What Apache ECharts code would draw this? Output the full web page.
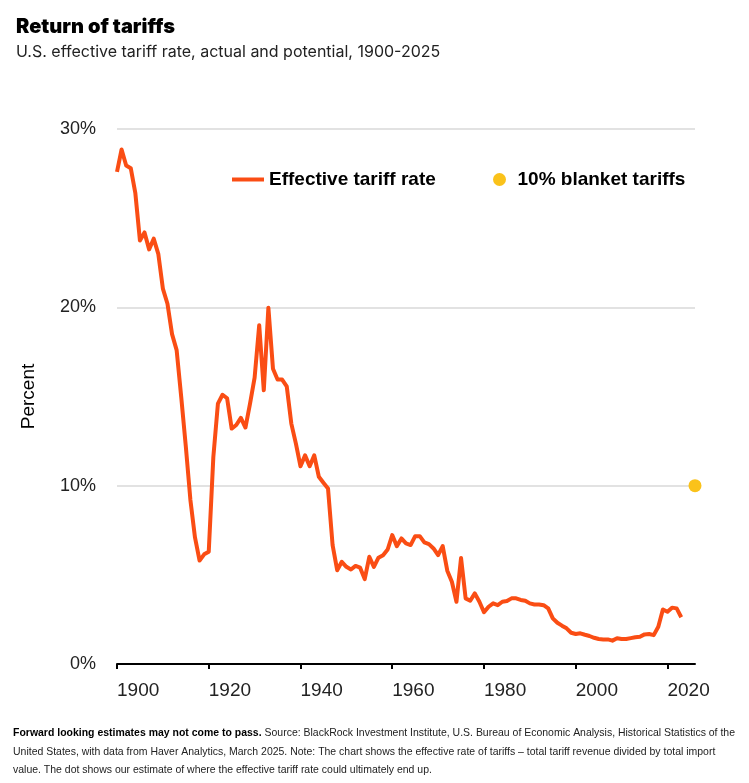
<!DOCTYPE html>
<html>
<head>
<meta charset="utf-8">
<script src="https://cdn.jsdelivr.net/npm/echarts@6/dist/echarts.min.js"></script>
<style>
html,body{margin:0;padding:0;background:#fff;}
#chart{width:749px;height:783px;}
</style>
</head>
<body>
<div id="chart"></div>
<script>
const startYear = 1900;
const tariffRate = [
27.6, 28.85, 27.95, 27.8, 26.4, 23.75, 24.2, 23.25, 23.85, 23.0,
21.05, 20.2, 18.5, 17.6, 14.97, 12.2, 9.2, 7.1, 5.8, 6.15,
6.3, 11.6, 14.6, 15.1, 14.9, 13.2, 13.4, 13.8, 13.26, 14.6,
16.06, 19.0, 15.35, 19.98, 16.56, 15.95, 15.95, 15.57, 13.48, 12.36,
11.09, 11.7, 11.09, 11.7, 10.5, 10.16, 9.84, 6.67, 5.26, 5.73,
5.45, 5.3, 5.5, 5.4, 4.76, 6.01, 5.45, 5.96, 6.1, 6.42,
7.23, 6.61, 7.04, 6.76, 6.67, 7.17, 7.17, 6.82, 6.72, 6.48,
6.1, 6.61, 5.23, 4.61, 3.49, 5.95, 3.68, 3.55, 3.96, 3.49,
2.9, 3.21, 3.4, 3.3, 3.49, 3.53, 3.68, 3.68, 3.59, 3.55,
3.4, 3.34, 3.34, 3.3, 3.12, 2.56, 2.31, 2.15, 2.0, 1.75,
1.68, 1.72, 1.64, 1.57, 1.47, 1.4, 1.38, 1.38, 1.31, 1.44,
1.4, 1.4, 1.45, 1.5, 1.53, 1.66, 1.68, 1.62, 2.09, 3.06,
2.93, 3.16, 3.12, 2.62
];
const blanketYear = 2026;
const blanketRate = 10;
const xTicks = [1900, 1920, 1940, 1960, 1980, 2000, 2020];
const seriesNames = ['Effective tariff rate', '10% blanket tariffs'];
const titleText = 'Return of tariffs';
const subtitleText = 'U.S. effective tariff rate, actual and potential, 1900-2025';
const yAxisName = 'Percent';
const footLines = [
  ['Forward looking estimates may not come to pass.', ' Source: BlackRock Investment Institute, U.S. Bureau of Economic Analysis, Historical Statistics of the'],
  ['', 'United States, with data from Haver Analytics, March 2025. Note: The chart shows the effective rate of tariffs \u2013 total tariff revenue divided by total import'],
  ['', 'value. The dot shows our estimate of where the effective tariff rate could ultimately end up.']
];

const ORANGE = '#FA4D14';
const YELLOW = '#FAC21A';
const FOOT_FONT = 'Liberation Sans';
const FOOT_SIZE = 11;
const lineData = tariffRate.map((v, i) => [startYear + i, v]);

// horizontal condensing so footnote line 1 spans the same width as the reference
const cv = document.createElement('canvas').getContext('2d');
cv.font = 'bold ' + FOOT_SIZE + 'px "' + FOOT_FONT + '"';
let w1 = cv.measureText(footLines[0][0]).width;
cv.font = FOOT_SIZE + 'px "' + FOOT_FONT + '"';
w1 += cv.measureText(footLines[0][1]).width;
const footScale = 722 / w1;

const footText = footLines.map(l => (l[0] ? '{b|' + l[0] + '}' : '') + '{r|' + l[1] + '}').join('\n');

const chart = echarts.init(document.getElementById('chart'), null, {renderer: 'canvas'});
chart.setOption({
  backgroundColor: '#ffffff',
  animation: false,
  title: [
    {text: titleText, left: 11, top: 12, textStyle: {fontFamily: 'Inter', fontWeight: 900, fontSize: 20, color: '#000'}},
    {text: subtitleText, left: 11, top: 39, textStyle: {fontFamily: 'Inter', fontWeight: 'normal', fontSize: 16, color: '#222'}}
  ],
  grid: {left: 117, right: 54, top: 129, bottom: 119, containLabel: false},
  legend: [
    {data: [{name: seriesNames[0], icon: 'rect'}], left: 232, top: 170, padding: 0, itemWidth: 32, itemHeight: 4,
     textStyle: {fontFamily: 'Liberation Sans', fontWeight: 'bold', fontSize: 19, color: '#000'}, selectedMode: false},
    {data: [{name: seriesNames[1], icon: 'circle'}], left: 493, top: 170, padding: 0, itemWidth: 26, itemHeight: 13,
     textStyle: {fontFamily: 'Liberation Sans', fontWeight: 'bold', fontSize: 19, color: '#000'}, selectedMode: false}
  ],
  xAxis: {
    type: 'value', min: 1900, max: 2026,
    splitLine: {show: false},
    axisLine: {show: true, lineStyle: {color: '#000', width: 2}},
    axisTick: {show: true, length: 5, lineStyle: {color: '#000', width: 2}, customValues: xTicks},
    axisLabel: {customValues: xTicks, align: 'left', margin: 17, fontFamily: 'Liberation Sans', fontSize: 19, color: '#222',
      formatter: v => String(v)}
  },
  yAxis: {
    type: 'value', min: 0, max: 30, interval: 10,
    name: yAxisName, nameLocation: 'middle', nameGap: 79, nameRotate: 90,
    nameTextStyle: {fontFamily: 'Liberation Sans', fontSize: 19, color: '#000'},
    axisLine: {show: false}, axisTick: {show: false},
    splitLine: {show: true, lineStyle: {color: '#d9d9d9', width: 1.5}},
    axisLabel: {margin: 21, fontFamily: 'Liberation Sans', fontSize: 18, color: '#222', formatter: v => v + '%'}
  },
  series: [
    {name: seriesNames[0], type: 'line', data: lineData, showSymbol: false, symbol: 'none',
     lineStyle: {color: ORANGE, width: 4, join: 'round'}, itemStyle: {color: ORANGE}, z: 3},
    {name: seriesNames[1], type: 'scatter', data: [[blanketYear, blanketRate]], symbolSize: 13,
     itemStyle: {color: YELLOW, opacity: 1}, clip: false, z: 4}
  ],
  graphic: [
    {type: 'text', left: 13, top: 724, scaleX: footScale, originX: 0, style: {
      text: footText, lineHeight: 18.5,
      rich: {
        b: {fontFamily: FOOT_FONT, fontWeight: 'bold', fontSize: FOOT_SIZE, fill: '#000', lineHeight: 18.5},
        r: {fontFamily: FOOT_FONT, fontSize: FOOT_SIZE, fill: '#222', lineHeight: 18.5}
      }
    }}
  ]
});
</script>
</body>
</html>
